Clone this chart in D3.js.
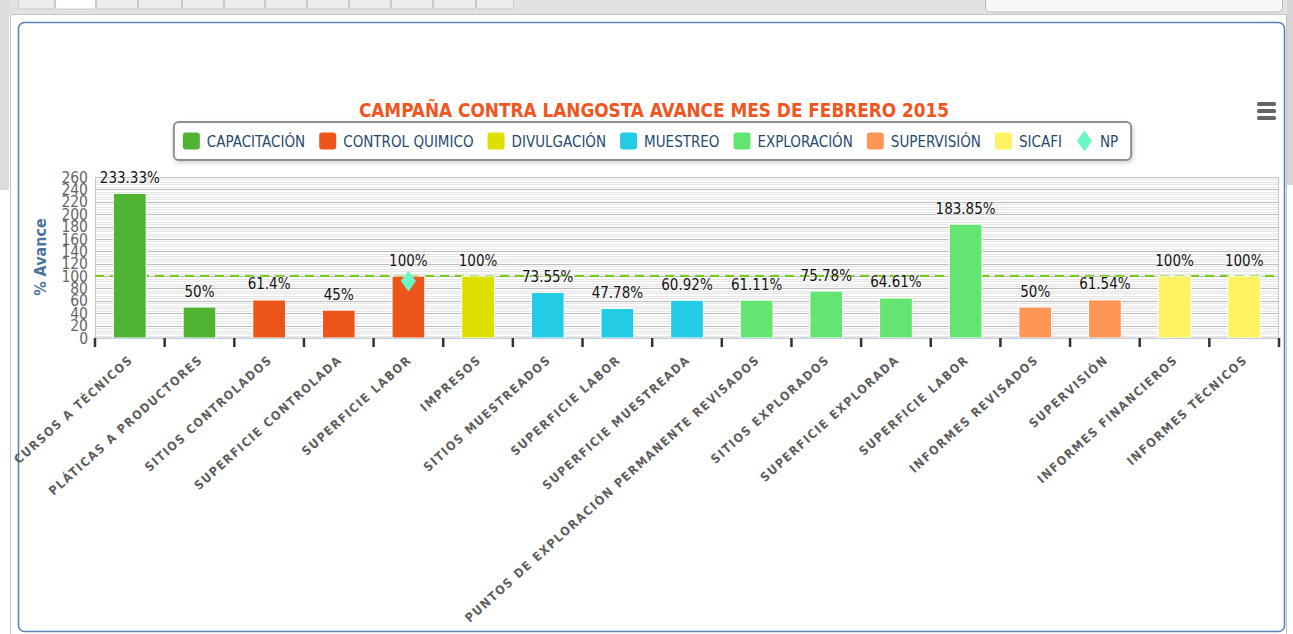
<!DOCTYPE html>
<html>
<head>
<meta charset="utf-8">
<script src="https://cdn.jsdelivr.net/npm/d3@7"></script>
<style>
  body { margin: 0; background: #fff; }
  text { font-family: "DejaVu Sans Condensed", "DejaVu Sans", sans-serif; }
</style>
</head>
<body>
<svg id="chart" width="1293" height="634"></svg>
<script>
// data
var categories = [
  "CURSOS A TÉCNICOS", "PLÁTICAS A PRODUCTORES", "SITIOS CONTROLADOS",
  "SUPERFICIE CONTROLADA", "SUPERFICIE LABOR", "IMPRESOS",
  "SITIOS MUESTREADOS", "SUPERFICIE LABOR", "SUPERFICIE MUESTREADA",
  "PUNTOS DE EXPLORACIÓN PERMANENTE REVISADOS", "SITIOS EXPLORADOS",
  "SUPERFICIE EXPLORADA", "SUPERFICIE LABOR", "INFORMES REVISADOS",
  "SUPERVISIÓN", "INFORMES FINANCIEROS", "INFORMES TÉCNICOS"
];
var values = [233.33, 50, 61.4, 45, 100, 100, 73.55, 47.78, 60.92, 61.11, 75.78, 64.61, 183.85, 50, 61.54, 100, 100];
// which series each bar belongs to
var barSeries = [0, 0, 1, 1, 1, 2, 3, 3, 3, 4, 4, 4, 4, 5, 5, 6, 6];
var seriesNames = ["CAPACITACIÓN", "CONTROL QUIMICO", "DIVULGACIÓN", "MUESTREO", "EXPLORACIÓN", "SUPERVISIÓN", "SICAFI", "NP"];
var npCats = [4];
var npValues = [92];
var goal = 100;
var yTicks = d3.range(0, 261, 20);
var minorTicks = d3.range(0, 261, 4);

var palette = ["#50B432", "#ED561B", "#DDDF00", "#24CBE5", "#64E572", "#FF9655", "#FFF263", "#6AF9C4"];

var svg = d3.select("#chart");

// page chrome around the chart
svg.append("rect").attr("x", 0).attr("y", 0).attr("width", 1293).attr("height", 14).attr("fill", "#e2e2e2");
svg.append("rect").attr("x", 0).attr("y", 0).attr("width", 9).attr("height", 190).attr("fill", "#dcdcdc");
svg.append("rect").attr("x", 1287).attr("y", 0).attr("width", 6).attr("height", 185).attr("fill", "#d6d6d6");
svg.append("rect").attr("x", 10.5).attr("y", 14.5).attr("width", 1276).attr("height", 625)
    .attr("fill", "#fff").attr("stroke", "#c4c4c4");
var tabs = [18, 55, 96, 138, 182, 224, 265, 307, 349, 391, 433, 476, 514];
for (var t = 0; t < tabs.length - 1; t++) {
  svg.append("rect").attr("x", tabs[t] + 0.5).attr("y", -2).attr("width", tabs[t + 1] - tabs[t] - 1).attr("height", 11)
      .attr("rx", 2).attr("fill", t === 1 ? "#fff" : "#ececec").attr("stroke", "#c8c8c8");
}
svg.append("rect").attr("x", 985.5).attr("y", -4).attr("width", 297).attr("height", 16).attr("rx", 4)
    .attr("fill", "#f7f7f7").attr("stroke", "#b8b8b8");

// chart container
svg.append("rect").attr("x", 18.5).attr("y", 22.5).attr("width", 1266).attr("height", 609).attr("rx", 6)
    .attr("fill", "#fff").attr("stroke", "#5c82b5").attr("stroke-width", 1.6);

// scales
var x = d3.scaleBand().domain(d3.range(categories.length)).range([95, 1279]).padding(0);
var y = d3.scaleLinear().domain([0, 260]).range([338, 177]);
var barW = x.bandwidth() * 0.47;

// plot background and grid
svg.append("rect").attr("x", 95).attr("y", 177).attr("width", 1184).attr("height", 161).attr("fill", "#fbfbfb");
svg.append("g").selectAll("line").data(minorTicks).join("line")
    .attr("x1", 95).attr("x2", 1279)
    .attr("y1", function(d) { return Math.round(y(d)) + 0.5; })
    .attr("y2", function(d) { return Math.round(y(d)) + 0.5; })
    .attr("stroke", "#e6e6e6");
svg.append("g").selectAll("line").data(yTicks).join("line")
    .attr("x1", 95).attr("x2", 1279)
    .attr("y1", function(d) { return Math.round(y(d)) + 0.5; })
    .attr("y2", function(d) { return Math.round(y(d)) + 0.5; })
    .attr("stroke", "#bdbdbd");
svg.append("rect").attr("x", 95.5).attr("y", 177.5).attr("width", 1183).attr("height", 160.5)
    .attr("fill", "none").attr("stroke", "#c6c6c6");

// goal line
svg.append("line").attr("x1", 95).attr("x2", 1279).attr("y1", y(goal)).attr("y2", y(goal))
    .attr("stroke", "#77cc11").attr("stroke-width", 2).attr("stroke-dasharray", "9,6");

// bars
svg.append("g").selectAll("rect").data(values).join("rect")
    .attr("x", function(d, i) { return x(i) + (x.bandwidth() - barW) / 2; })
    .attr("y", function(d) { return y(d); })
    .attr("width", barW)
    .attr("height", function(d) { return y(0) - y(d); })
    .attr("fill", function(d, i) { return palette[barSeries[i]]; })
    .attr("stroke", "#fff");

// data labels
svg.append("g").selectAll("text").data(values).join("text")
    .attr("x", function(d, i) { return x(i) + x.bandwidth() / 2; })
    .attr("y", function(d) { return y(d) - 10.5; })
    .attr("text-anchor", "middle")
    .attr("font-size", 15)
    .attr("fill", "#111")
    .attr("stroke", "#fff").attr("stroke-width", 1.5).attr("stroke-opacity", 0.6)
    .attr("paint-order", "stroke")
    .text(function(d) { return d + "%"; });

// NP diamond
svg.append("g").selectAll("path").data(npValues).join("path")
    .attr("transform", function(d, i) { return "translate(" + (x(npCats[i]) + x.bandwidth() / 2) + "," + y(d) + ")"; })
    .attr("d", "M0,-10.5L7.5,0L0,10.5L-7.5,0Z")
    .attr("fill", palette[7]);

// x axis ticks and labels
svg.append("line").attr("x1", 95).attr("x2", 1279).attr("y1", 338.5).attr("y2", 338.5).attr("stroke", "#c0d0e0");
svg.append("g").selectAll("line").data(d3.range(categories.length + 1)).join("line")
    .attr("x1", function(d) { return d < categories.length ? x(d) : x.range()[1]; })
    .attr("x2", function(d) { return d < categories.length ? x(d) : x.range()[1]; })
    .attr("y1", 338).attr("y2", 347)
    .attr("stroke", "#333").attr("stroke-width", 2.5);
svg.append("g").selectAll("text").data(categories).join("text")
    .attr("transform", function(d, i) { return "translate(" + (x(i) + x.bandwidth() / 2 + 4) + ",361) rotate(-42)"; })
    .attr("text-anchor", "end")
    .attr("font-family", "'DejaVu Sans', sans-serif")
    .attr("font-weight", "bold")
    .attr("font-size", 12.3)
    .attr("letter-spacing", 1.5)
    .attr("fill", "#5e5e5e")
    .text(function(d) { return d; });

// y axis labels
svg.append("g").selectAll("text").data(yTicks).join("text")
    .attr("x", 88).attr("y", function(d) { return y(d); })
    .attr("dy", "0.36em")
    .attr("text-anchor", "end")
    .attr("font-size", 15.5)
    .attr("fill", "#666")
    .text(function(d) { return d; });
svg.append("text")
    .attr("transform", "translate(46,257) rotate(-90)")
    .attr("text-anchor", "middle")
    .attr("font-family", "'DejaVu Sans', sans-serif")
    .attr("font-weight", "bold")
    .attr("font-size", 16)
    .attr("fill", "#4d759e")
    .text("% Avance");

// title
svg.append("text").attr("x", 654).attr("y", 117).attr("text-anchor", "middle")
    .attr("font-weight", "bold").attr("font-size", 18.8).attr("fill", "#f0561f")
    .text("CAMPAÑA CONTRA LANGOSTA AVANCE MES DE FEBRERO 2015");

// legend
var legendBox = svg.append("rect");
var lg = svg.append("g");
var lx = 0;
seriesNames.forEach(function(name, i) {
  var item = lg.append("g").attr("transform", "translate(" + lx + ",0)");
  if (i < 7) {
    item.append("rect").attr("x", 0).attr("y", -8.5).attr("width", 17).attr("height", 17).attr("rx", 3)
        .attr("fill", palette[i]);
  } else {
    item.append("path").attr("d", "M8.5,-10.5L16,0L8.5,10.5L1,0Z").attr("fill", palette[i]);
  }
  var tx = item.append("text").attr("x", 24).attr("y", 5.5).attr("font-size", 15).attr("fill", "#274b6d").text(name);
  lx += 24 + tx.node().getComputedTextLength() + 14;
});
var legendW = lx - 14;
var lstart = 650.5 - legendW / 2;
lg.attr("transform", "translate(" + lstart + ",141)");
legendBox.attr("x", lstart - 9).attr("y", 122).attr("width", legendW + 22).attr("height", 38).attr("rx", 5)
    .attr("fill", "#fff").attr("stroke", "#8f8f8f").attr("stroke-width", 2)
    .style("filter", "drop-shadow(1px 2px 2px rgba(0,0,0,0.18))");

// export menu icon
[104, 111, 118].forEach(function(yy) {
  svg.append("rect").attr("x", 1257).attr("y", yy - 2).attr("width", 19).attr("height", 4).attr("rx", 1.5).attr("fill", "#666");
});
</script>
</body>
</html>
